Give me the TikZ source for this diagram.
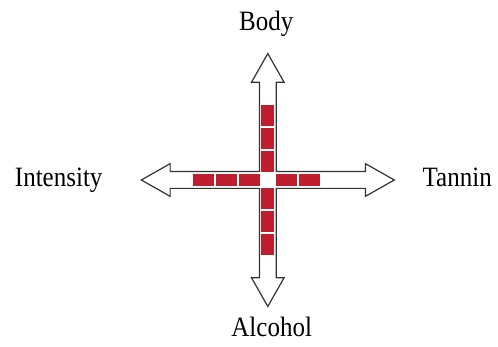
\documentclass[tikz,border=0pt]{standalone}
\usepackage{fontspec}
\setmainfont{Liberation Serif}
\usepackage{xcolor}
\definecolor{Outline}{HTML}{333333}
\definecolor{Wine}{HTML}{BE1E2D}
\newcommand{\tallword}[1]{\scalebox{1}[1.12]{#1}}

\begin{document}
\begin{tikzpicture}[x=1pt,y=-1pt,every node/.style={text=black,font=\fontsize{25}{30}\selectfont,anchor=base}]
\useasboundingbox[fill=white] (0,0) rectangle (498,347);
% four-headed arrow outline, centre (267.8,180)
\begin{scope}[shift={(267.8,180)}]
\draw[Outline,line width=1.2pt,line join=miter]
  (-8.4,-8.4) -- (-8.4,-97.7) -- (-16.3,-97.7) -- (0,-126.5) -- (16.3,-97.7) -- (8.4,-97.7)
  -- (8.4,-8.4) -- (97.7,-8.4) -- (97.7,-16.3) -- (126.5,0) -- (97.7,16.3) -- (97.7,8.4)
  -- (8.4,8.4) -- (8.4,97.7) -- (16.3,97.7) -- (0,126.5) -- (-16.3,97.7) -- (-8.4,97.7)
  -- (-8.4,8.4) -- (-97.7,8.4) -- (-97.7,16.3) -- (-126.5,0) -- (-97.7,-16.3) -- (-97.7,-8.4)
  -- cycle;
% red blocks
\foreach \k in {0,1,2}{
  \fill[Wine] (-6.5,-8.3-23*\k) rectangle (6.5,-29-23*\k);
  \fill[Wine] (-6.5,8.3+23*\k) rectangle (6.5,29+23*\k);
  \fill[Wine] (-8.3-23*\k,-6.4) rectangle (-29-23*\k,6.4);
}
\foreach \k in {0,1}
  \fill[Wine] (8.3+23*\k,-6.4) rectangle (29+23*\k,6.4);
\end{scope}
\node (body) at (266.3,31) {\tallword{Body}};
\node (intensity) at (58.7,187) {\tallword{Intensity}};
\node (tannin) at (457.2,187) {\tallword{Tannin}};
\node (alcohol) at (271.7,337) {\tallword{Alcohol}};
\end{tikzpicture}
\end{document}
